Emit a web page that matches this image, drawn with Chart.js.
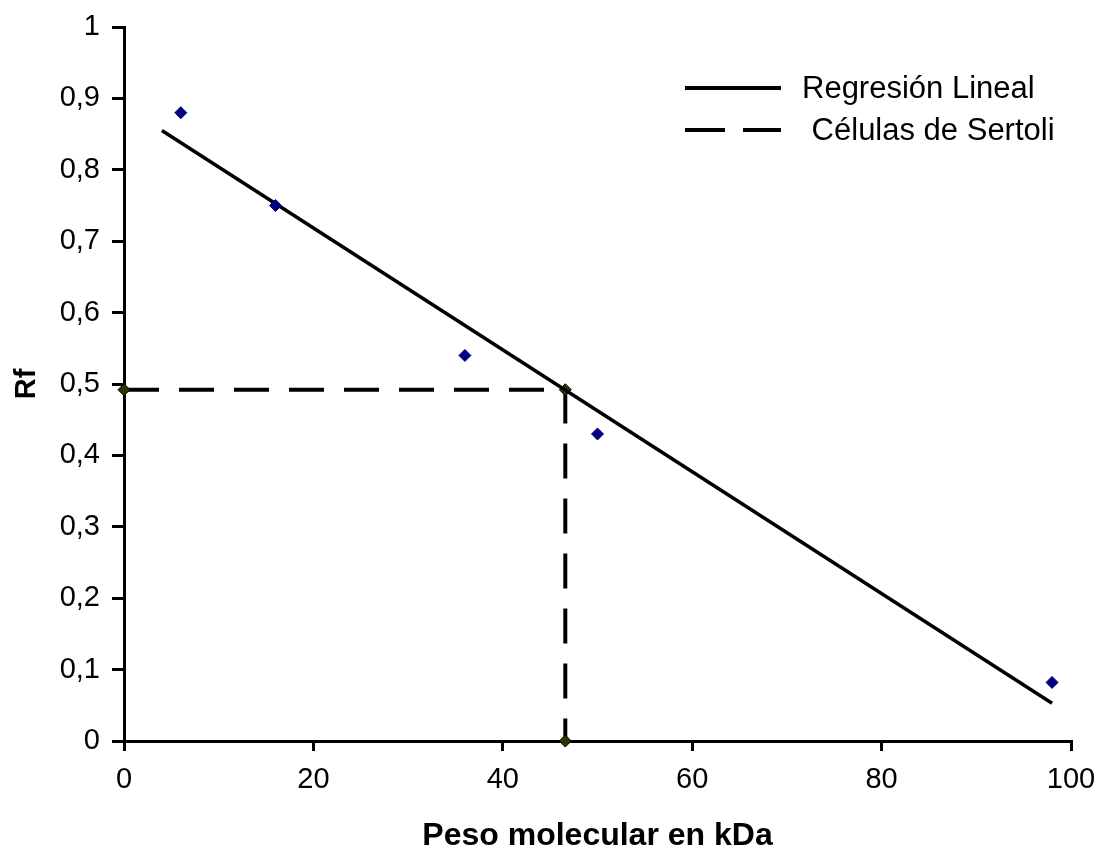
<!DOCTYPE html>
<html>
<head>
<meta charset="utf-8">
<script src="https://cdn.jsdelivr.net/npm/chart.js@4.4.1/dist/chart.umd.min.js"></script>
<style>
  html, body { margin: 0; padding: 0; background: #fff; }
  #wrap { width: 1098px; height: 852px; position: relative; }
</style>
</head>
<body>
<div id="wrap"><canvas id="chart"></canvas></div>
<script>
// measured points (Rf vs molecular weight)
const pesoKDa = [6, 16, 36, 50, 98];
const rfValues = [0.88, 0.75, 0.54, 0.43, 0.082];

// regression line end points
const regX = [4, 98];
const regY = [0.855, 0.053];

// Sertoli cells reading
const sertoliX = [0, 46.6, 46.6];
const sertoliY = [0.492, 0.492, 0];

const legendItems = ['Regresión Lineal', ' Células de Sertoli'];
const FONT = '"Liberation Sans", Arial, sans-serif';

const toPoints = (xs, ys) => xs.map((x, i) => ({ x: x, y: ys[i] }));

// simple legend drawn in the top right corner
const legendPlugin = {
  id: 'manualLegend',
  afterDraw(chart) {
    const ctx = chart.ctx;
    ctx.save();
    ctx.strokeStyle = '#000';
    ctx.lineWidth = 4;
    ctx.beginPath();
    ctx.moveTo(685, 88);
    ctx.lineTo(781, 88);
    ctx.stroke();
    ctx.setLineDash([40, 18]);
    ctx.beginPath();
    ctx.moveTo(685, 130);
    ctx.lineTo(781, 130);
    ctx.stroke();
    ctx.setLineDash([]);
    ctx.fillStyle = '#000';
    ctx.font = '31px ' + FONT;
    ctx.textBaseline = 'middle';
    ctx.fillText(legendItems[0], 802, 89);
    ctx.fillText(legendItems[1], 803, 131);
    ctx.restore();
  }
};

const ctx = document.getElementById('chart').getContext('2d');
new Chart(ctx, {
  type: 'scatter',
  data: {
    datasets: [
      {
        label: 'Datos',
        data: toPoints(pesoKDa, rfValues),
        pointStyle: 'rectRot',
        pointRadius: 6,
        backgroundColor: '#000080',
        borderColor: '#000080',
        showLine: false
      },
      {
        label: legendItems[0],
        data: toPoints(regX, regY),
        showLine: true,
        borderColor: '#000',
        borderWidth: 3.5,
        pointRadius: 0
      },
      {
        label: legendItems[1],
        data: toPoints(sertoliX, sertoliY),
        showLine: true,
        borderColor: '#000',
        borderWidth: 4,
        borderDash: [35, 20],
        pointStyle: 'rectRot',
        pointRadius: 6,
        pointBackgroundColor: '#333300',
        pointBorderColor: '#000',
        pointBorderWidth: 1
      }
    ]
  },
  options: {
    responsive: true,
    maintainAspectRatio: false,
    animation: false,
    clip: false,
    layout: { padding: { top: 27, right: 27, left: 0, bottom: 0 } },
    plugins: {
      legend: { display: false },
      tooltip: { enabled: false }
    },
    scales: {
      x: {
        type: 'linear',
        min: 0,
        max: 100,
        afterFit: (scale) => {
          scale.height = 111;
          scale.paddingLeft = 0;
          scale.paddingRight = 0;
        },
        ticks: {
          stepSize: 20,
          color: '#000',
          padding: 12,
          font: { family: FONT, size: 29 }
        },
        grid: { drawOnChartArea: false, drawTicks: true, tickLength: 10, color: '#000', lineWidth: 3 },
        border: { color: '#000', width: 3 },
        title: {
          display: true,
          text: 'Peso molecular en kDa',
          color: '#000',
          padding: { top: 14, bottom: 0 },
          font: { family: FONT, size: 32, weight: 'bold', lineHeight: 1 }
        }
      },
      y: {
        min: 0,
        max: 1,
        afterFit: (scale) => {
          scale.width = 124;
          scale.paddingTop = 0;
          scale.paddingBottom = 0;
        },
        ticks: {
          stepSize: 0.1,
          color: '#000',
          padding: 12,
          font: { family: FONT, size: 29 },
          callback: (v) => String(Math.round(v * 10) / 10).replace('.', ',')
        },
        grid: { drawOnChartArea: false, drawTicks: true, tickLength: 12, color: '#000', lineWidth: 3 },
        border: { color: '#000', width: 3 },
        title: {
          display: true,
          text: 'Rf',
          color: '#000',
          padding: { top: 10, bottom: 0 },
          font: { family: FONT, size: 29, weight: 'bold' }
        }
      }
    }
  },
  plugins: [legendPlugin]
});
</script>
</body>
</html>
